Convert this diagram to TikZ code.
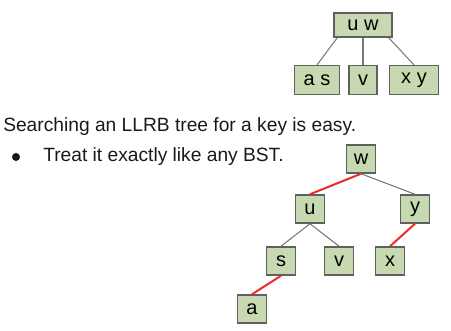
\documentclass[tikz,border=0pt]{standalone}
\usepackage{fontspec}
\setmainfont{Liberation Sans}
\definecolor{keygreen}{RGB}{198,217,176}
\definecolor{keyedge}{RGB}{96,96,96}
\definecolor{linkgray}{RGB}{120,120,120}
\definecolor{linkred}{RGB}{240,40,40}
\definecolor{inkblack}{RGB}{25,25,25}
\begin{document}
\begin{tikzpicture}[x=0.75pt,y=-0.75pt,
    key/.style={draw=keyedge, fill=keygreen, line width=1.1pt, inner sep=0pt,
                minimum width=22pt, minimum height=21pt,
                font=\fontsize{15}{18}\selectfont},
    black link/.style={draw=linkgray, line width=0.8pt},
    red link/.style={draw=linkred, line width=1.5pt},
    words/.style={anchor=base west, inner sep=0pt, text=inkblack,
                  font=\fontsize{14.4}{17}\selectfont}]
    \useasboundingbox (0,0) rectangle (451,330);

    % 2-3 tree
    \node[key, minimum width=43.5pt, minimum height=18pt] (uw) at (363,25) {u w};
    \node[key, minimum width=34pt, minimum height=21.5pt] (as) at (317,80) {a s};
    \node[key, minimum width=21pt, minimum height=21.5pt] (vv) at (363,80) {v};
    \node[key, minimum width=37pt, minimum height=21.5pt] (xy) at (414,80) {x y};
    \draw[black link] ([xshift=3pt]uw.south west) -- (as.north);
    \draw[black link] (uw.south) -- (vv.north);
    \draw[black link] ([xshift=-3pt]uw.south east) -- (xy.north);

    % Text
    \node[words] (line1) at (3,131) {Searching an LLRB tree for a key is easy.};
    \node[circle, fill=inkblack, inner sep=0pt, minimum size=6pt] (dot) at (16,157) {};
    \node[words] (line2) at (43,161) {Treat it exactly like any BST.};

    % LLRB
    \node[key] (w) at (361,159) {w};
    \node[key] (u) at (310,209) {u};
    \node[key] (y) at (415,209) {y};
    \node[key] (s) at (281,261) {s};
    \node[key] (v) at (339,261) {v};
    \node[key] (x) at (390,261) {x};
    \node[key] (a) at (252,309) {a};
    \draw[red link] (w.south) -- (u.north);
    \draw[black link] (w.south) -- (y.north);
    \draw[black link] (u.south) -- (s.north);
    \draw[black link] (u.south) -- (v.north);
    \draw[red link] (y.south) -- (x.north);
    \draw[red link] (s.south) -- (a.north);
\end{tikzpicture}
\end{document}
